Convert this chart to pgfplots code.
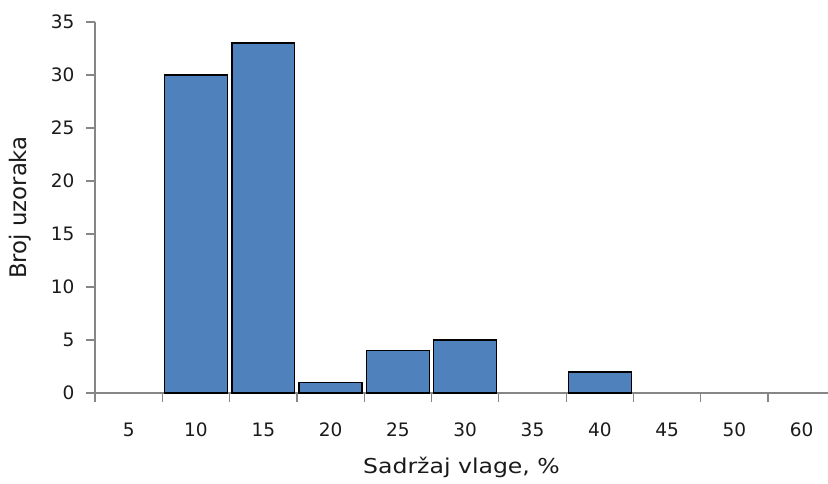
\documentclass[border=0pt]{standalone}
\usepackage{fontspec}
\setmainfont{DejaVu Sans}
\usepackage{pgfplots}
\pgfplotsset{compat=1.18}
\definecolor{barblue}{HTML}{4F81BD}
\definecolor{axisgray}{HTML}{868686}
\definecolor{txt}{HTML}{1A1A1A}

\begin{document}
\begin{tikzpicture}
\begin{axis}[
  scale only axis,
  width=733pt, height=371pt,
  xmin=-0.5, xmax=10.39,
  ymin=0, ymax=35,
  axis x line*=bottom, axis y line*=left,
  axis line style={axisgray, line width=1.2pt},
  every tick/.style={axisgray, line width=1.2pt},
  tick align=outside,
  xtick={0,...,10},
  xticklabels={5,10,15,20,25,30,35,40,45,50,60},
  major x tick style={draw=none},
  minor xtick={-0.5,0.5,...,10.5},
  minor tick length=9pt,
  ytick={0,5,...,35},
  major tick length=9pt,
  /pgf/number format/assume math mode=true,
  tick label style={font=\fontsize{18.5}{21}\selectfont, text=txt},
  xticklabel style={anchor=center, yshift=-28pt},
  yticklabel style={anchor=east, xshift=-8pt},
  xlabel={Sadržaj vlage, \%},
  ylabel={Broj uzoraka},
  xlabel style={font=\fontsize{20.5}{24}\selectfont, text=txt, xscale=1.15,
    at={(axis description cs:0.5,-0.1995)}, anchor=center},
  ylabel style={font=\fontsize{22.8}{26}\selectfont, text=txt,
    at={(axis description cs:-0.1023,0.5)}, anchor=center},
  clip=false,
]
\addplot[ybar, bar width=0.935, fill=barblue, draw=black, line width=1.5pt]
  coordinates {(1,30) (2,33) (3,1) (4,4) (5,5) (7,2)};
\end{axis}
\pgfresetboundingbox
\path[use as bounding box] (-95pt,-90pt) rectangle (733pt,393pt);
\end{tikzpicture}
\end{document}
